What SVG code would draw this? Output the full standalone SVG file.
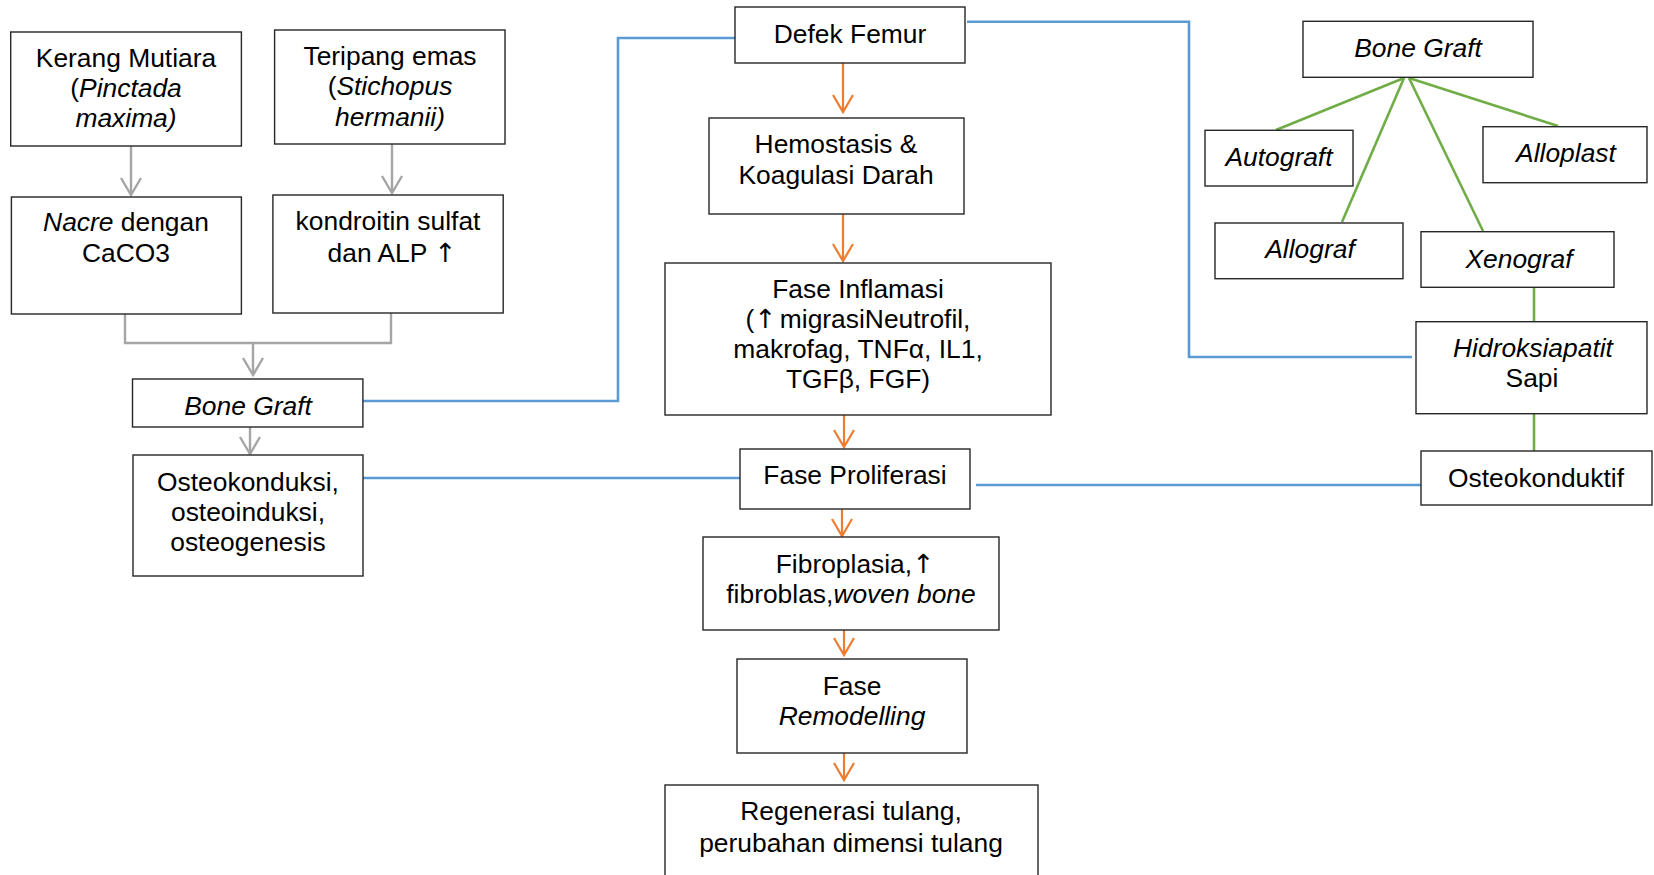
<svg xmlns="http://www.w3.org/2000/svg" width="1654" height="875" viewBox="0 0 1654 875">
<defs>
<style>
.box{fill:#fff;stroke:#262626;stroke-width:1.4}
.t{font-family:"Liberation Sans",Arial,sans-serif;font-size:26.4px;fill:#000;text-anchor:middle}
.i{font-style:italic}
.ar{font-family:"DejaVu Sans",sans-serif;letter-spacing:-4px}
.or{fill:none;stroke:#ED7D31;stroke-width:2.2}
.gr{fill:none;stroke:#A5A5A5;stroke-width:2.4}
.bl{fill:none;stroke:#5B9BD5;stroke-width:2.6}
.gn{fill:none;stroke:#70AD47;stroke-width:2.6}
</style>
<marker id="ao" markerUnits="userSpaceOnUse" markerWidth="30" markerHeight="30" refX="0" refY="0" viewBox="-20 -15 25 30" orient="auto" overflow="visible">
<path d="M-17,-10 L0,0 L-17,10" fill="none" stroke="#ED7D31" stroke-width="2.2"/>
</marker>
<marker id="ag" markerUnits="userSpaceOnUse" markerWidth="30" markerHeight="30" refX="0" refY="0" viewBox="-20 -15 25 30" orient="auto" overflow="visible">
<path d="M-17,-10 L0,0 L-17,10" fill="none" stroke="#A5A5A5" stroke-width="2.4"/>
</marker>
</defs>
<rect width="1654" height="875" fill="#fff"/>

<g id="connectors">
<path class="or" d="M843,63 V112" marker-end="url(#ao)"/>
<path class="or" d="M843,214 V261" marker-end="url(#ao)"/>
<path class="or" d="M844,415 V447" marker-end="url(#ao)"/>
<path class="or" d="M842,509 V536" marker-end="url(#ao)"/>
<path class="or" d="M844,630 V655" marker-end="url(#ao)"/>
<path class="or" d="M844,753 V780" marker-end="url(#ao)"/>
<path class="gr" d="M131,146 V195" marker-end="url(#ag)"/>
<path class="gr" d="M392,144 V193" marker-end="url(#ag)"/>
<path class="gr" d="M125,314 V343 H391 V313"/>
<path class="gr" d="M253,343 V375" marker-end="url(#ag)"/>
<path class="gr" d="M250,427 V454" marker-end="url(#ag)"/>
<path class="bl" d="M363,401 H618 V38 H735"/>
<path class="bl" d="M967,21.7 H1189 V357 H1412"/>
<path class="bl" d="M363,478 H743"/>
<path class="bl" d="M976,485 H1421"/>
<path class="gn" d="M1404,78 L1276,130"/>
<path class="gn" d="M1404,78 L1342,222"/>
<path class="gn" d="M1409,78 L1483,231"/>
<path class="gn" d="M1409,78 L1558,126"/>
<path class="gn" d="M1534,287 V322"/>
<path class="gn" d="M1534,414 V451"/>
</g>

<g id="kerang">
<rect class="box" x="10.7" y="32" width="230.7" height="114"/>
<text class="t" x="126" y="67">Kerang Mutiara</text>
<text class="t" x="126" y="97">(<tspan class="i">Pinctada</tspan></text>
<text class="t i" x="126" y="127">maxima)</text>
</g>
<g id="teripang">
<rect class="box" x="274.6" y="30" width="230.4" height="114"/>
<text class="t" x="390" y="65">Teripang emas</text>
<text class="t" x="390" y="95">(<tspan class="i">Stichopus</tspan></text>
<text class="t i" x="390" y="126">hermanii)</text>
</g>
<g id="nacre">
<rect class="box" x="11.4" y="197" width="230" height="117"/>
<text class="t" x="126" y="231"><tspan class="i">Nacre</tspan> dengan</text>
<text class="t" x="126" y="262">CaCO3</text>
</g>
<g id="kondroitin">
<rect class="box" x="272.9" y="195" width="230.3" height="118"/>
<text class="t" x="388" y="230">kondroitin sulfat</text>
<text class="t" x="390" y="262">dan ALP <tspan class="ar">↑</tspan></text>
</g>
<g id="bonegraft-left">
<rect class="box" x="132.5" y="379" width="230.4" height="48"/>
<text class="t i" x="248" y="415">Bone Graft</text>
</g>
<g id="osteokonduksi">
<rect class="box" x="133" y="455" width="230" height="121"/>
<text class="t" x="248" y="491">Osteokonduksi,</text>
<text class="t" x="248" y="521">osteoinduksi,</text>
<text class="t" x="248" y="551">osteogenesis</text>
</g>

<g id="defek">
<rect class="box" x="735" y="7" width="230" height="56"/>
<text class="t" x="850" y="43">Defek Femur</text>
</g>
<g id="hemostasis">
<rect class="box" x="709" y="118" width="255" height="96"/>
<text class="t" x="836" y="153">Hemostasis &amp;</text>
<text class="t" x="836" y="184">Koagulasi Darah</text>
</g>
<g id="inflamasi">
<rect class="box" x="665" y="263" width="386" height="152"/>
<text class="t" x="858" y="298">Fase Inflamasi</text>
<text class="t" x="858" y="328">(<tspan class="ar">↑</tspan> migrasiNeutrofil,</text>
<text class="t" x="858" y="358">makrofag, TNFα, IL1,</text>
<text class="t" x="858" y="388">TGFβ, FGF)</text>
</g>
<g id="proliferasi">
<rect class="box" x="740" y="449" width="230" height="60"/>
<text class="t" x="855" y="484">Fase Proliferasi</text>
</g>
<g id="fibroplasia">
<rect class="box" x="703" y="537" width="296" height="93"/>
<text class="t" x="853" y="573">Fibroplasia,<tspan class="ar">↑</tspan></text>
<text class="t" x="851" y="603">fibroblas,<tspan class="i">woven bone</tspan></text>
</g>
<g id="remodelling">
<rect class="box" x="737" y="659" width="230" height="94"/>
<text class="t" x="852" y="695">Fase</text>
<text class="t i" x="852" y="725">Remodelling</text>
</g>
<g id="regenerasi">
<rect class="box" x="665" y="785" width="373" height="100"/>
<text class="t" x="851" y="820">Regenerasi tulang,</text>
<text class="t" x="851" y="852">perubahan dimensi tulang</text>
</g>

<g id="bonegraft-right">
<rect class="box" x="1303" y="21.3" width="230" height="56"/>
<text class="t i" x="1418" y="57">Bone Graft</text>
</g>
<g id="autograft">
<rect class="box" x="1205" y="130.3" width="148" height="55.7"/>
<text class="t i" x="1279" y="166">Autograft</text>
</g>
<g id="alloplast">
<rect class="box" x="1483" y="126.7" width="164" height="56"/>
<text class="t i" x="1566" y="162">Alloplast</text>
</g>
<g id="allograf">
<rect class="box" x="1215" y="223" width="188" height="55.7"/>
<text class="t i" x="1310" y="258">Allograf</text>
</g>
<g id="xenograf">
<rect class="box" x="1421" y="231.7" width="193" height="55.6"/>
<text class="t i" x="1519" y="268">Xenograf</text>
</g>
<g id="hidroksiapatit">
<rect class="box" x="1416" y="321.7" width="231" height="92"/>
<text class="t i" x="1533" y="357">Hidroksiapatit</text>
<text class="t" x="1532" y="387">Sapi</text>
</g>
<g id="osteokonduktif">
<rect class="box" x="1421" y="451" width="231" height="54"/>
<text class="t" x="1536" y="487">Osteokonduktif</text>
</g>
</svg>
